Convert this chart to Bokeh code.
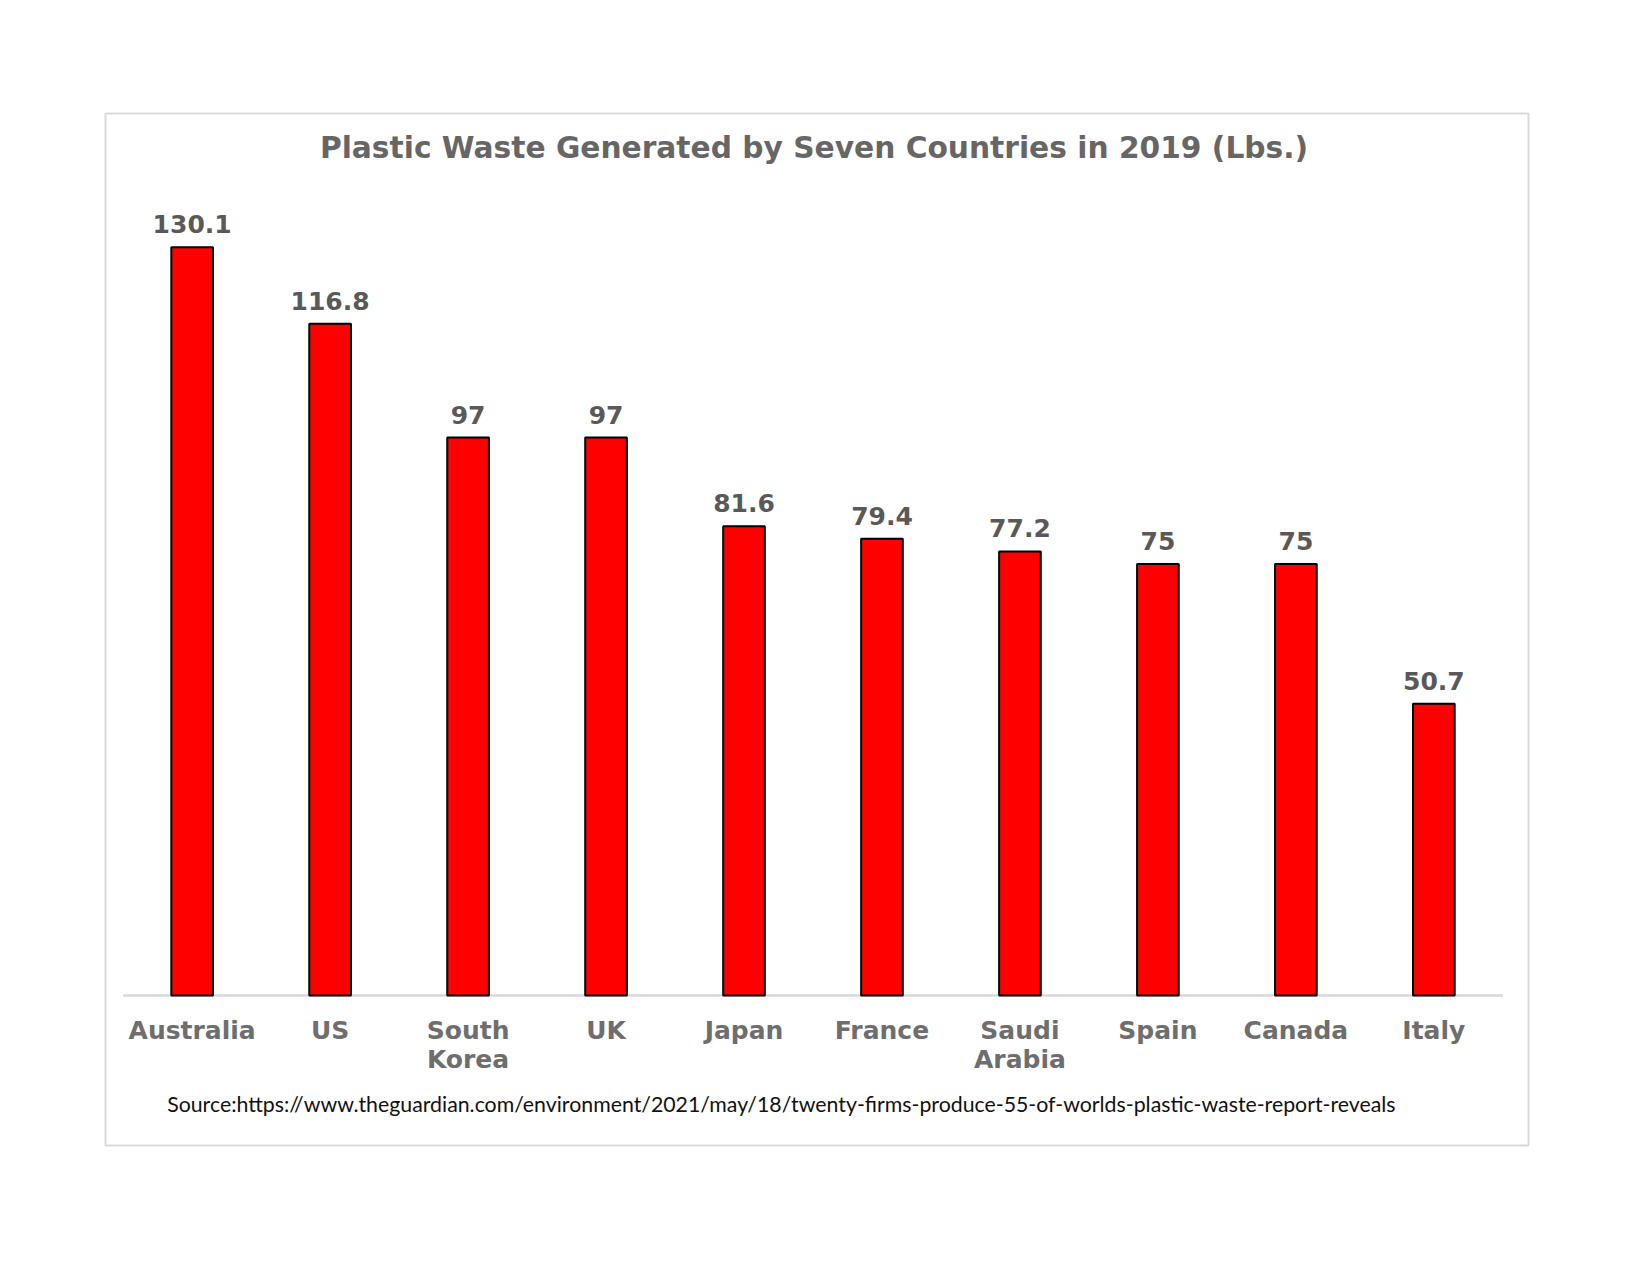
from bokeh.plotting import figure
from bokeh.models import Range1d, ColumnDataSource
from bokeh.core.properties import value
from bokeh.embed import file_html
from bokeh.resources import INLINE

# ---- data ----
countries = ["Australia", "US", "South Korea", "UK", "Japan", "France",
             "Saudi Arabia", "Spain", "Canada", "Italy"]
tick_labels = ["Australia", "US", "South\nKorea", "UK", "Japan", "France",
               "Saudi\nArabia", "Spain", "Canada", "Italy"]
waste_lbs = [130.1, 116.8, 97, 97, 81.6, 79.4, 77.2, 75, 75, 50.7]
title_text = "Plastic Waste Generated by Seven Countries in 2019 (Lbs.)"
source_text = ("Source:https://www.theguardian.com/environment/2021/may/18/"
               "twenty-firms-produce-55-of-worlds-plastic-waste-report-reveals")

value_labels = [f"{v:g}" for v in waste_lbs]
positions = list(range(len(countries)))   # category slots 0..n-1

FONT = value("DejaVu Sans")

n = len(countries)
p = figure(
    width=1600, height=1200,
    x_range=Range1d(-0.628, (n - 1) + 0.686),
    y_range=Range1d(-26.08, 153.34),
    output_backend="svg", toolbar_location=None,
    min_border_left=105, min_border_right=72,
    min_border_top=113, min_border_bottom=55,
)
p.xaxis.visible = False
p.yaxis.visible = False
p.xgrid.visible = False
p.ygrid.visible = False
p.outline_line_color = "#d9d9d9"
p.outline_line_width = 2
p.background_fill_color = "white"
p.border_fill_color = "white"

src = ColumnDataSource(dict(x=positions, top=waste_lbs, name=countries,
                            lab=value_labels, tick=tick_labels))

# axis baseline spanning the category slots
p.segment(x0=[positions[0] - 0.5], y0=[0], x1=[positions[-1] + 0.5], y1=[0],
          line_color="#d9d9d9", line_width=2.5)

# bars
p.vbar(x="x", top="top", bottom=0, width=0.302, source=src,
       fill_color="#ff0000", line_color="#000000", line_width=2)

# value labels
p.text(x="x", y="top", text="lab", source=src, text_font=FONT,
       text_font_style="bold", text_font_size="25px", text_color="#595959",
       text_align="center", text_baseline="alphabetic", y_offset=-23)

# category labels
p.text(x="x", y=0, text="tick", source=src, text_font=FONT,
       text_font_style="bold", text_font_size="25px", text_color="#6e6e6e",
       text_align="center", text_baseline="top", y_offset=21,
       text_line_height=1.0)

# title
p.text(x=[(positions[0] + positions[-1]) / 2], y=[p.y_range.end], text=[title_text],
       text_font=FONT, text_font_style="bold", text_font_size="29.7px",
       text_color="#666666", text_align="center", text_baseline="alphabetic",
       x_offset=1, y_offset=34)

# source note
p.text(x=[positions[0] - 0.5], y=[p.y_range.start], text=[source_text],
       text_font=value("Lato"), text_font_size="21.3px", text_color="#111111",
       text_align="left", text_baseline="alphabetic", x_offset=44, y_offset=-42)

open("out.html", "w").write(file_html(p, INLINE))
